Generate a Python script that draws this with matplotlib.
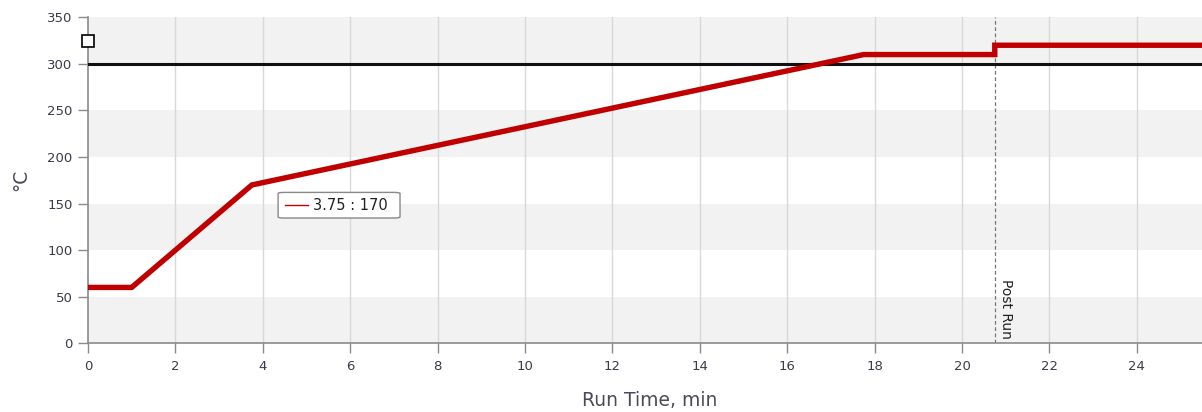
import matplotlib
matplotlib.use("Agg")
import matplotlib.pyplot as plt
from matplotlib.patches import FancyBboxPatch

# Oven temperature program
time_min = [0.0, 1.0, 3.75, 17.75, 20.75, 20.75, 25.6]
temp_c = [60, 60, 170, 310, 310, 320, 320]
max_temp = 300
post_run_start = 20.75
cursor_time, cursor_temp = 3.75, 170
x_ticks = [0, 2, 4, 6, 8, 10, 12, 14, 16, 18, 20, 22, 24]
y_ticks = [0, 50, 100, 150, 200, 250, 300, 350]

W, H = 1202, 412
fig = plt.figure(figsize=(W / 100, H / 100), dpi=100)
left, right, bottom, top = 88, 1202, 343.3, 17.3
ax = fig.add_axes([left / W, 1 - bottom / H, (right - left) / W, (bottom - top) / H])
ax.set_xlim(0, (right - left) / 43.7)
ax.set_ylim(0, 350)

tick_color = "#3a3a4a"
# alternating horizontal bands
for lo in range(0, 350, 100):
    ax.axhspan(lo, lo + 50, color="#f2f2f2", zorder=0, lw=0)
for x in x_ticks[1:]:
    ax.axvline(x, color="#d8d8d8", lw=1.0, zorder=1)

ax.axhline(max_temp, color="#111111", lw=2.2, zorder=3)
ax.plot(time_min, temp_c, color="#c00000", lw=3.9, solid_joinstyle="miter",
        solid_capstyle="butt", zorder=4)

ax.axvline(post_run_start, color="#777777", lw=0.9, ls=(0, (3, 2)), zorder=2)
ax.text(post_run_start + 0.1, 5, "Post Run", rotation=-90, ha="left", va="bottom",
        fontsize=10, color="#222222", zorder=5)

# square marker at the top-left
ax.plot([0], [325], marker="s", ms=8, mfc="white", mec="black", mew=1.2,
        clip_on=False, zorder=6)

# cursor readout box
box = FancyBboxPatch((4.35, 134.5), 2.79, 27.5,
                     boxstyle="round,pad=0,rounding_size=0.14",
                     mutation_aspect=27.5 / 2.79 * 0.9,
                     fc="white", ec="#888888", lw=1.0, zorder=7)
ax.add_patch(box)
ax.plot([4.51, 5.03], [148.2, 148.2], color="#c00000", lw=1.0, zorder=8)
ax.text(5.15, 148.2, f"{cursor_time} : {cursor_temp}", ha="left", va="center",
        fontsize=10.5, color="#222222", zorder=8)

for s in ["top", "right"]:
    ax.spines[s].set_visible(False)
for s in ["left", "bottom"]:
    ax.spines[s].set_color("#8a8a8a")
    ax.spines[s].set_linewidth(1.2)
ax.spines["bottom"].set_zorder(5)

ax.set_xticks(x_ticks)
ax.set_yticks(y_ticks)
ax.tick_params(axis="both", colors="#8a8a8a", labelcolor=tick_color, length=7,
               width=1, labelsize=9.5, pad=4)
ax.tick_params(axis="x", pad=5)

fig.text(650 / W, 1 - 400 / H, "Run Time, min", ha="center", va="center",
         fontsize=13.5, color="#4a4a5a")
fig.text(21 / W, 1 - 180 / H, "°C", ha="center", va="center", rotation=90,
         fontsize=13.5, color="#4a4a5a")

fig.savefig("out.png", dpi=100)
